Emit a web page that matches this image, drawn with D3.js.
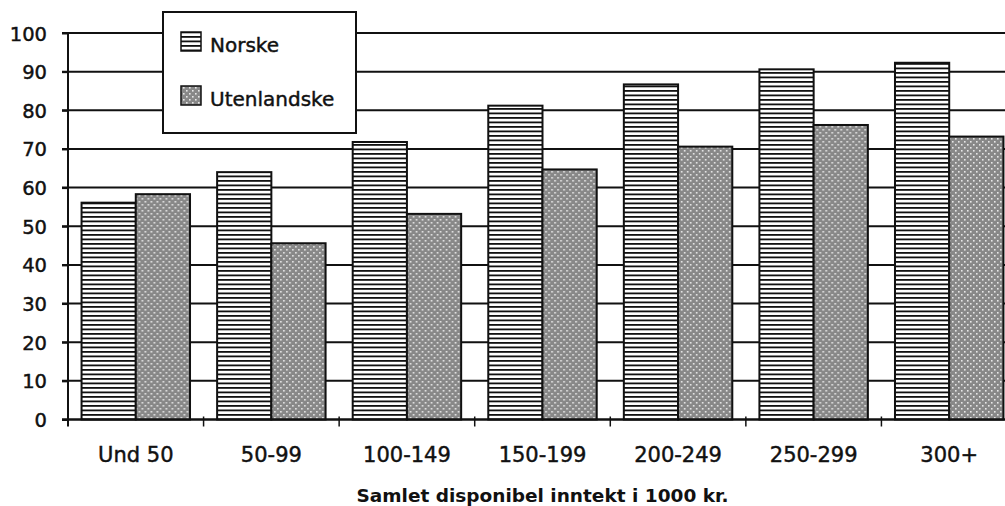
<!DOCTYPE html>
<html>
<head>
<meta charset="utf-8">
<script src="https://cdn.jsdelivr.net/npm/d3@7"></script>
<style>
  html, body { margin: 0; padding: 0; background: #fff; }
  svg { display: block; }
</style>
</head>
<body>
<svg id="chart" width="1005" height="506"></svg>
<script>
const categories = ["Und 50", "50-99", "100-149", "150-199", "200-249", "250-299", "300+"];
const seriesNames = ["Norske", "Utenlandske"];
const norske = [56.1, 64.0, 71.8, 81.2, 86.7, 90.6, 92.3];
const utenlandske = [58.3, 45.6, 53.2, 64.7, 70.6, 76.2, 73.2];
const yTicks = [0, 10, 20, 30, 40, 50, 60, 70, 80, 90, 100];
const xTitle = "Samlet disponibel inntekt i 1000 kr.";

(function () {
const svg = d3.select("#chart");
const pL = 68, pR = 1017, pT = 33, pB = 419.5;
const ink = "#111";

const defs = svg.append("defs");
const ps = defs.append("pattern").attr("id", "stripes").attr("patternUnits", "userSpaceOnUse")
  .attr("width", 10).attr("height", 9);
ps.append("rect").attr("width", 10).attr("height", 9).attr("fill", "#fff");
ps.append("rect").attr("y", 0).attr("width", 10).attr("height", 1.8).attr("fill", ink);
ps.append("rect").attr("y", 4.5).attr("width", 10).attr("height", 1.8).attr("fill", ink);

const pd = defs.append("pattern").attr("id", "dots").attr("patternUnits", "userSpaceOnUse")
  .attr("width", 6).attr("height", 6);
pd.append("rect").attr("width", 6).attr("height", 6).attr("fill", "#888");
pd.append("rect").attr("x", 0).attr("y", 0).attr("width", 1.6).attr("height", 1.6).attr("fill", "#e8e8e8");
pd.append("rect").attr("x", 3).attr("y", 3).attr("width", 1.6).attr("height", 1.6).attr("fill", "#e8e8e8");

const fills = { "Norske": "url(#stripes)", "Utenlandske": "url(#dots)" };

const x = d3.scaleBand().domain(categories).range([pL, pR]).paddingInner(0.2).paddingOuter(0.1);
const xs = d3.scaleBand().domain(seriesNames).range([0, x.bandwidth()]);
const y = d3.scaleLinear().domain([0, 100]).range([pB, pT]);

// gridlines
svg.append("g").selectAll("line").data(yTicks).join("line")
  .attr("x1", pL - 6).attr("x2", pR)
  .attr("y1", d => y(d)).attr("y2", d => y(d))
  .attr("stroke", ink).attr("stroke-width", 2);

// bars
const rows = categories.map((c, i) => ({ c, vals: [
  { s: "Norske", v: norske[i] }, { s: "Utenlandske", v: utenlandske[i] } ] }));
const g = svg.append("g").selectAll("g").data(rows).join("g")
  .attr("transform", d => `translate(${x(d.c)},0)`);
g.selectAll("rect").data(d => d.vals).join("rect")
  .attr("x", d => xs(d.s)).attr("width", xs.bandwidth())
  .attr("y", d => y(d.v)).attr("height", d => y(0) - y(d.v))
  .attr("fill", d => fills[d.s]).attr("stroke", ink).attr("stroke-width", 2);

// zero line on top
svg.append("line").attr("x1", pL - 6).attr("x2", pR).attr("y1", y(0)).attr("y2", y(0))
  .attr("stroke", ink).attr("stroke-width", 2);

// y axis
const ya = svg.append("g").attr("transform", `translate(${pL},0)`)
  .call(d3.axisLeft(y).tickValues(yTicks).tickSize(6).tickPadding(15).tickSizeOuter(0));
ya.select(".domain").attr("stroke", ink).attr("stroke-width", 2).attr("d", `M0,${pT}V${pB + 7}`);
ya.selectAll(".tick line").attr("stroke", ink).attr("stroke-width", 2);
ya.selectAll(".tick text").attr("font-family", "DejaVu Sans").attr("font-size", 19.5).attr("fill", ink)
  .attr("stroke", ink).attr("stroke-width", 0.45).attr("dy", "0.36em");

// x axis: boundary ticks and labels
const step = x.step();
const bounds = categories.map((c) => x(c) - x.paddingOuter() * step).slice(1);
svg.append("g").selectAll("line").data(bounds).join("line")
  .attr("x1", d => d).attr("x2", d => d).attr("y1", pB - 3).attr("y2", pB + 7)
  .attr("stroke", ink).attr("stroke-width", 1.5);
const xa = svg.append("g").attr("transform", `translate(0,${pB})`)
  .call(d3.axisBottom(x).tickSize(0).tickPadding(28));
xa.select(".domain").remove();
xa.selectAll(".tick text").attr("font-family", "DejaVu Sans").attr("font-size", 21).attr("fill", ink)
  .attr("stroke", ink).attr("stroke-width", 0.45);

svg.append("text").attr("x", (pL + pR) / 2).attr("y", 502).attr("text-anchor", "middle")
  .attr("font-family", "DejaVu Sans").attr("font-weight", "bold").attr("font-size", 18.5)
  .attr("fill", ink).text(xTitle);

// legend
const lg = svg.append("g");
lg.append("rect").attr("x", 163).attr("y", 12).attr("width", 193).attr("height", 121)
  .attr("fill", "#fff").attr("stroke", ink).attr("stroke-width", 2);
seriesNames.forEach((s, i) => {
  const yy = 32 + i * 54;
  lg.append("rect").attr("x", 181).attr("y", yy).attr("width", 20).attr("height", 19)
    .attr("fill", fills[s]).attr("stroke", ink).attr("stroke-width", 1.5);
  lg.append("text").attr("x", 210).attr("y", yy + 20).attr("font-family", "DejaVu Sans")
    .attr("font-size", 20).attr("fill", ink).attr("stroke", ink).attr("stroke-width", 0.45).text(s);
});
})();
</script>
</body>
</html>
